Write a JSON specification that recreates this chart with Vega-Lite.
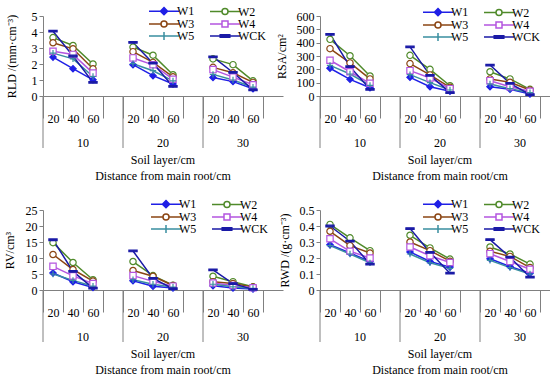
{
"$schema": "https://vega.github.io/schema/vega-lite/v6.json",
"background": "white",
"padding": {"left": 3, "top": 5, "right": 0, "bottom": 0},
"datasets": {
"rld": [
{"distance":10,"layer":20,"series":"W1","value":2.43},{"distance":10,"layer":40,"series":"W1","value":1.71},{"distance":10,"layer":60,"series":"W1","value":1.01},
{"distance":10,"layer":20,"series":"W2","value":3.65},{"distance":10,"layer":40,"series":"W2","value":3.16},{"distance":10,"layer":60,"series":"W2","value":2.0},
{"distance":10,"layer":20,"series":"W3","value":3.33},{"distance":10,"layer":40,"series":"W3","value":2.95},{"distance":10,"layer":60,"series":"W3","value":1.7},
{"distance":10,"layer":20,"series":"W4","value":2.8},{"distance":10,"layer":40,"series":"W4","value":2.6},{"distance":10,"layer":60,"series":"W4","value":1.43},
{"distance":10,"layer":20,"series":"W5","value":2.68},{"distance":10,"layer":40,"series":"W5","value":2.32},{"distance":10,"layer":60,"series":"W5","value":1.22},
{"distance":10,"layer":20,"series":"WCK","value":4.05},{"distance":10,"layer":40,"series":"WCK","value":2.5},{"distance":10,"layer":60,"series":"WCK","value":0.85},
{"distance":20,"layer":20,"series":"W1","value":1.96},{"distance":20,"layer":40,"series":"W1","value":1.27},{"distance":20,"layer":60,"series":"W1","value":0.75},
{"distance":20,"layer":20,"series":"W2","value":3.06},{"distance":20,"layer":40,"series":"W2","value":2.55},{"distance":20,"layer":60,"series":"W2","value":1.33},
{"distance":20,"layer":20,"series":"W3","value":2.77},{"distance":20,"layer":40,"series":"W3","value":2.1},{"distance":20,"layer":60,"series":"W3","value":1.2},
{"distance":20,"layer":20,"series":"W4","value":2.38},{"distance":20,"layer":40,"series":"W4","value":1.95},{"distance":20,"layer":60,"series":"W4","value":1.05},
{"distance":20,"layer":20,"series":"W5","value":2.02},{"distance":20,"layer":40,"series":"W5","value":1.58},{"distance":20,"layer":60,"series":"W5","value":0.95},
{"distance":20,"layer":20,"series":"WCK","value":3.35},{"distance":20,"layer":40,"series":"WCK","value":2.05},{"distance":20,"layer":60,"series":"WCK","value":0.6},
{"distance":30,"layer":20,"series":"W1","value":1.16},{"distance":30,"layer":40,"series":"W1","value":0.9},{"distance":30,"layer":60,"series":"W1","value":0.45},
{"distance":30,"layer":20,"series":"W2","value":2.32},{"distance":30,"layer":40,"series":"W2","value":1.96},{"distance":30,"layer":60,"series":"W2","value":0.95},
{"distance":30,"layer":20,"series":"W3","value":1.79},{"distance":30,"layer":40,"series":"W3","value":1.45},{"distance":30,"layer":60,"series":"W3","value":0.85},
{"distance":30,"layer":20,"series":"W4","value":1.65},{"distance":30,"layer":40,"series":"W4","value":1.18},{"distance":30,"layer":60,"series":"W4","value":0.7},
{"distance":30,"layer":20,"series":"W5","value":1.35},{"distance":30,"layer":40,"series":"W5","value":1.0},{"distance":30,"layer":60,"series":"W5","value":0.55},
{"distance":30,"layer":20,"series":"WCK","value":2.45},{"distance":30,"layer":40,"series":"WCK","value":1.47},{"distance":30,"layer":60,"series":"WCK","value":0.38}
],
"rsa": [
{"distance":10,"layer":20,"series":"W1","value":208},{"distance":10,"layer":40,"series":"W1","value":125},{"distance":10,"layer":60,"series":"W1","value":62},
{"distance":10,"layer":20,"series":"W2","value":425},{"distance":10,"layer":40,"series":"W2","value":302},{"distance":10,"layer":60,"series":"W2","value":150},
{"distance":10,"layer":20,"series":"W3","value":355},{"distance":10,"layer":40,"series":"W3","value":248},{"distance":10,"layer":60,"series":"W3","value":128},
{"distance":10,"layer":20,"series":"W4","value":268},{"distance":10,"layer":40,"series":"W4","value":182},{"distance":10,"layer":60,"series":"W4","value":95},
{"distance":10,"layer":20,"series":"W5","value":230},{"distance":10,"layer":40,"series":"W5","value":165},{"distance":10,"layer":60,"series":"W5","value":80},
{"distance":10,"layer":20,"series":"WCK","value":463},{"distance":10,"layer":40,"series":"WCK","value":220},{"distance":10,"layer":60,"series":"WCK","value":50},
{"distance":20,"layer":20,"series":"W1","value":140},{"distance":20,"layer":40,"series":"W1","value":70},{"distance":20,"layer":60,"series":"W1","value":35},
{"distance":20,"layer":20,"series":"W2","value":305},{"distance":20,"layer":40,"series":"W2","value":200},{"distance":20,"layer":60,"series":"W2","value":77},
{"distance":20,"layer":20,"series":"W3","value":243},{"distance":20,"layer":40,"series":"W3","value":158},{"distance":20,"layer":60,"series":"W3","value":65},
{"distance":20,"layer":20,"series":"W4","value":190},{"distance":20,"layer":40,"series":"W4","value":135},{"distance":20,"layer":60,"series":"W4","value":55},
{"distance":20,"layer":20,"series":"W5","value":160},{"distance":20,"layer":40,"series":"W5","value":100},{"distance":20,"layer":60,"series":"W5","value":45},
{"distance":20,"layer":20,"series":"WCK","value":368},{"distance":20,"layer":40,"series":"WCK","value":155},{"distance":20,"layer":60,"series":"WCK","value":25},
{"distance":30,"layer":20,"series":"W1","value":70},{"distance":30,"layer":40,"series":"W1","value":50},{"distance":30,"layer":60,"series":"W1","value":15},
{"distance":30,"layer":20,"series":"W2","value":182},{"distance":30,"layer":40,"series":"W2","value":128},{"distance":30,"layer":60,"series":"W2","value":50},
{"distance":30,"layer":20,"series":"W3","value":128},{"distance":30,"layer":40,"series":"W3","value":103},{"distance":30,"layer":60,"series":"W3","value":45},
{"distance":30,"layer":20,"series":"W4","value":115},{"distance":30,"layer":40,"series":"W4","value":70},{"distance":30,"layer":60,"series":"W4","value":35},
{"distance":30,"layer":20,"series":"W5","value":90},{"distance":30,"layer":40,"series":"W5","value":55},{"distance":30,"layer":60,"series":"W5","value":25},
{"distance":30,"layer":20,"series":"WCK","value":232},{"distance":30,"layer":40,"series":"WCK","value":95},{"distance":30,"layer":60,"series":"WCK","value":10}
],
"rv": [
{"distance":10,"layer":20,"series":"W1","value":5.3},{"distance":10,"layer":40,"series":"W1","value":2.6},{"distance":10,"layer":60,"series":"W1","value":0.8},
{"distance":10,"layer":20,"series":"W2","value":14.8},{"distance":10,"layer":40,"series":"W2","value":8.6},{"distance":10,"layer":60,"series":"W2","value":3.2},
{"distance":10,"layer":20,"series":"W3","value":11.1},{"distance":10,"layer":40,"series":"W3","value":6.4},{"distance":10,"layer":60,"series":"W3","value":2.8},
{"distance":10,"layer":20,"series":"W4","value":7.4},{"distance":10,"layer":40,"series":"W4","value":4.4},{"distance":10,"layer":60,"series":"W4","value":2.0},
{"distance":10,"layer":20,"series":"W5","value":5.0},{"distance":10,"layer":40,"series":"W5","value":3.0},{"distance":10,"layer":60,"series":"W5","value":1.2},
{"distance":10,"layer":20,"series":"WCK","value":15.7},{"distance":10,"layer":40,"series":"WCK","value":5.8},{"distance":10,"layer":60,"series":"WCK","value":0.6},
{"distance":20,"layer":20,"series":"W1","value":2.9},{"distance":20,"layer":40,"series":"W1","value":1.2},{"distance":20,"layer":60,"series":"W1","value":0.6},
{"distance":20,"layer":20,"series":"W2","value":8.9},{"distance":20,"layer":40,"series":"W2","value":4.5},{"distance":20,"layer":60,"series":"W2","value":1.5},
{"distance":20,"layer":20,"series":"W3","value":6.1},{"distance":20,"layer":40,"series":"W3","value":4.3},{"distance":20,"layer":60,"series":"W3","value":1.4},
{"distance":20,"layer":20,"series":"W4","value":4.5},{"distance":20,"layer":40,"series":"W4","value":2.7},{"distance":20,"layer":60,"series":"W4","value":1.2},
{"distance":20,"layer":20,"series":"W5","value":3.2},{"distance":20,"layer":40,"series":"W5","value":1.8},{"distance":20,"layer":60,"series":"W5","value":0.9},
{"distance":20,"layer":20,"series":"WCK","value":12.2},{"distance":20,"layer":40,"series":"WCK","value":3.6},{"distance":20,"layer":60,"series":"WCK","value":0.4},
{"distance":30,"layer":20,"series":"W1","value":1.3},{"distance":30,"layer":40,"series":"W1","value":0.6},{"distance":30,"layer":60,"series":"W1","value":0.3},
{"distance":30,"layer":20,"series":"W2","value":4.3},{"distance":30,"layer":40,"series":"W2","value":2.6},{"distance":30,"layer":60,"series":"W2","value":1.0},
{"distance":30,"layer":20,"series":"W3","value":2.6},{"distance":30,"layer":40,"series":"W3","value":2.0},{"distance":30,"layer":60,"series":"W3","value":0.9},
{"distance":30,"layer":20,"series":"W4","value":2.2},{"distance":30,"layer":40,"series":"W4","value":1.4},{"distance":30,"layer":60,"series":"W4","value":0.7},
{"distance":30,"layer":20,"series":"W5","value":1.8},{"distance":30,"layer":40,"series":"W5","value":1.0},{"distance":30,"layer":60,"series":"W5","value":0.5},
{"distance":30,"layer":20,"series":"WCK","value":6.3},{"distance":30,"layer":40,"series":"WCK","value":2.0},{"distance":30,"layer":60,"series":"WCK","value":0.2}
],
"rwd": [
{"distance":10,"layer":20,"series":"W1","value":0.283},{"distance":10,"layer":40,"series":"W1","value":0.231},{"distance":10,"layer":60,"series":"W1","value":0.178},
{"distance":10,"layer":20,"series":"W2","value":0.41},{"distance":10,"layer":40,"series":"W2","value":0.326},{"distance":10,"layer":60,"series":"W2","value":0.246},
{"distance":10,"layer":20,"series":"W3","value":0.367},{"distance":10,"layer":40,"series":"W3","value":0.277},{"distance":10,"layer":60,"series":"W3","value":0.231},
{"distance":10,"layer":20,"series":"W4","value":0.32},{"distance":10,"layer":40,"series":"W4","value":0.242},{"distance":10,"layer":60,"series":"W4","value":0.2},
{"distance":10,"layer":20,"series":"W5","value":0.277},{"distance":10,"layer":40,"series":"W5","value":0.225},{"distance":10,"layer":60,"series":"W5","value":0.17},
{"distance":10,"layer":20,"series":"WCK","value":0.4},{"distance":10,"layer":40,"series":"WCK","value":0.305},{"distance":10,"layer":60,"series":"WCK","value":0.162},
{"distance":20,"layer":20,"series":"W1","value":0.238},{"distance":20,"layer":40,"series":"W1","value":0.178},{"distance":20,"layer":60,"series":"W1","value":0.143},
{"distance":20,"layer":20,"series":"W2","value":0.342},{"distance":20,"layer":40,"series":"W2","value":0.263},{"distance":20,"layer":60,"series":"W2","value":0.193},
{"distance":20,"layer":20,"series":"W3","value":0.3},{"distance":20,"layer":40,"series":"W3","value":0.246},{"distance":20,"layer":60,"series":"W3","value":0.18},
{"distance":20,"layer":20,"series":"W4","value":0.269},{"distance":20,"layer":40,"series":"W4","value":0.214},{"distance":20,"layer":60,"series":"W4","value":0.172},
{"distance":20,"layer":20,"series":"W5","value":0.225},{"distance":20,"layer":40,"series":"W5","value":0.17},{"distance":20,"layer":60,"series":"W5","value":0.135},
{"distance":20,"layer":20,"series":"WCK","value":0.384},{"distance":20,"layer":40,"series":"WCK","value":0.235},{"distance":20,"layer":60,"series":"WCK","value":0.105},
{"distance":30,"layer":20,"series":"W1","value":0.195},{"distance":30,"layer":40,"series":"W1","value":0.147},{"distance":30,"layer":60,"series":"W1","value":0.105},
{"distance":30,"layer":20,"series":"W2","value":0.269},{"distance":30,"layer":40,"series":"W2","value":0.225},{"distance":30,"layer":60,"series":"W2","value":0.162},
{"distance":30,"layer":20,"series":"W3","value":0.242},{"distance":30,"layer":40,"series":"W3","value":0.21},{"distance":30,"layer":60,"series":"W3","value":0.14},
{"distance":30,"layer":20,"series":"W4","value":0.227},{"distance":30,"layer":40,"series":"W4","value":0.178},{"distance":30,"layer":60,"series":"W4","value":0.13},
{"distance":30,"layer":20,"series":"W5","value":0.185},{"distance":30,"layer":40,"series":"W5","value":0.14},{"distance":30,"layer":60,"series":"W5","value":0.1},
{"distance":30,"layer":20,"series":"WCK","value":0.315},{"distance":30,"layer":40,"series":"WCK","value":0.205},{"distance":30,"layer":60,"series":"WCK","value":0.08}
]
},
"columns": 2,
"spacing": {"row": 16, "column": -8},
"resolve": {"scale": {"y": "independent"}, "legend": {"color": "independent"}},
"concat": [
{
 "data": {"name": "rld"},
 "facet": {"column": {"field": "distance", "type": "ordinal", "title": ["Soil layer/cm", "Distance from main root/cm"]}},
 "spacing": {"column": 0},
 "bounds": "flush",
 "spec": {
  "width": 80, "height": 80,
  "encoding": {
   "x": {"field": "layer", "type": "ordinal", "scale": {"type": "band", "paddingInner": 0, "paddingOuter": 0.5, "align": 0}, "axis": {"title": null}},
   "y": {"field": "value", "type": "quantitative", "scale": {"domain": [0, 5], "nice": false}, "axis": {"title": "RLD /(mm·cm⁻³)", "values": [0, 1, 2, 3, 4, 5], "titlePadding": 13}}
  },
  "layer": [
   {"transform": [{"filter": "datum.layer == 20 && datum.series == 'W1'"}], "mark": {"type": "rule", "color": "#808080", "strokeWidth": 1, "clip": false}, "encoding": {"x": {"field": "layer", "type": "ordinal", "bandPosition": 0}, "y": {"datum": 0, "type": "quantitative"}, "y2": {"datum": -3.25}}},
   {"mark": {"type": "line", "strokeWidth": 1.5}, "encoding": {"color": {"field": "series", "type": "nominal", "scale": {"domain": ["W1","W2","W3","W4","W5","WCK"], "range": ["#1f1fe6","#4f8a2a","#8b4513","#b455e0","#3a8fa0","#1a1aa6"]},
     "legend": {"orient": "none", "legendX": 110, "legendY": -11, "columns": 2, "direction": "horizontal", "title": null, "symbolSize": 64, "symbolOffset": 5, "labelOffset": 7, "columnPadding": 12, "rowPadding": -1, "symbolStrokeWidth": 1.5,
      "encode": {"symbols": {"update": {"shape": {"signal": "datum.value==='W1'?'M-3.75,0H3.75M0,-0.9L0.9,0L0,0.9L-0.9,0Z':datum.value==='W4'?'M-3.75,0H-0.75M0.75,0H3.75M-0.75,-0.75H0.75V0.75H-0.75Z':datum.value==='W5'?'M-3.75,0H3.75M0,-1V1':datum.value==='WCK'?'M-3.75,0H3.75M-1.2,-0.3H1.2V0.3H-1.2Z':'M-3.75,0H-0.75M0.75,0H3.75M0.75,0A0.75,0.75,0,1,1,-0.75,0A0.75,0.75,0,1,1,0.75,0Z'"}, "fill": {"signal": "datum.value==='W1'?'#1f1fe6':datum.value==='WCK'?'#1a1aa6':'#ffffff'"}}}}}}}},
   {"mark": {"type": "point", "filled": true, "size": 40, "strokeWidth": 1.2, "opacity": 1}, "encoding": {
     "shape": {"field": "series", "type": "nominal", "scale": {"domain": ["W1","W2","W3","W4","W5","WCK"], "range": ["diamond","circle","circle","square","M-1,0H1M0,-1V1","M-1.3,-0.25H1.3V0.25H-1.3Z"]}, "legend": null},
     "stroke": {"field": "series", "type": "nominal", "scale": {"domain": ["W1","W2","W3","W4","W5","WCK"], "range": ["#1f1fe6","#4f8a2a","#8b4513","#b455e0","#3a8fa0","#1a1aa6"]}, "legend": null},
     "fill": {"field": "series", "type": "nominal", "scale": {"domain": ["W1","W2","W3","W4","W5","WCK"], "range": ["#1f1fe6","#ffffff","#ffffff","#ffffff","#ffffff","#1a1aa6"]}, "legend": null}}}
  ]
 }
},
{
 "data": {"name": "rsa"},
 "facet": {"column": {"field": "distance", "type": "ordinal", "title": ["Soil layer/cm", "Distance from main root/cm"]}},
 "spacing": {"column": 0},
 "bounds": "flush",
 "spec": {
  "width": 80, "height": 80,
  "encoding": {
   "x": {"field": "layer", "type": "ordinal", "scale": {"type": "band", "paddingInner": 0, "paddingOuter": 0.5, "align": 0}, "axis": {"title": null}},
   "y": {"field": "value", "type": "quantitative", "scale": {"domain": [0, 600], "nice": false}, "axis": {"title": "RSA/cm²", "values": [0, 100, 200, 300, 400, 500, 600], "titlePadding": 8}}
  },
  "layer": [
   {"transform": [{"filter": "datum.layer == 20 && datum.series == 'W1'"}], "mark": {"type": "rule", "color": "#808080", "strokeWidth": 1, "clip": false}, "encoding": {"x": {"field": "layer", "type": "ordinal", "bandPosition": 0}, "y": {"datum": 0, "type": "quantitative"}, "y2": {"datum": -390}}},
   {"mark": {"type": "line", "strokeWidth": 1.5}, "encoding": {"color": {"field": "series", "type": "nominal", "scale": {"domain": ["W1","W2","W3","W4","W5","WCK"], "range": ["#1f1fe6","#4f8a2a","#8b4513","#b455e0","#3a8fa0","#1a1aa6"]},
     "legend": {"orient": "none", "legendX": 107, "legendY": -10, "columns": 2, "direction": "horizontal", "title": null, "symbolSize": 64, "symbolOffset": 5, "labelOffset": 7, "columnPadding": 12, "rowPadding": -1, "symbolStrokeWidth": 1.5,
      "encode": {"symbols": {"update": {"shape": {"signal": "datum.value==='W1'?'M-3.75,0H3.75M0,-0.9L0.9,0L0,0.9L-0.9,0Z':datum.value==='W4'?'M-3.75,0H-0.75M0.75,0H3.75M-0.75,-0.75H0.75V0.75H-0.75Z':datum.value==='W5'?'M-3.75,0H3.75M0,-1V1':datum.value==='WCK'?'M-3.75,0H3.75M-1.2,-0.3H1.2V0.3H-1.2Z':'M-3.75,0H-0.75M0.75,0H3.75M0.75,0A0.75,0.75,0,1,1,-0.75,0A0.75,0.75,0,1,1,0.75,0Z'"}, "fill": {"signal": "datum.value==='W1'?'#1f1fe6':datum.value==='WCK'?'#1a1aa6':'#ffffff'"}}}}}}}},
   {"mark": {"type": "point", "filled": true, "size": 40, "strokeWidth": 1.2, "opacity": 1}, "encoding": {
     "shape": {"field": "series", "type": "nominal", "scale": {"domain": ["W1","W2","W3","W4","W5","WCK"], "range": ["diamond","circle","circle","square","M-1,0H1M0,-1V1","M-1.3,-0.25H1.3V0.25H-1.3Z"]}, "legend": null},
     "stroke": {"field": "series", "type": "nominal", "scale": {"domain": ["W1","W2","W3","W4","W5","WCK"], "range": ["#1f1fe6","#4f8a2a","#8b4513","#b455e0","#3a8fa0","#1a1aa6"]}, "legend": null},
     "fill": {"field": "series", "type": "nominal", "scale": {"domain": ["W1","W2","W3","W4","W5","WCK"], "range": ["#1f1fe6","#ffffff","#ffffff","#ffffff","#ffffff","#1a1aa6"]}, "legend": null}}}
  ]
 }
},
{
 "data": {"name": "rv"},
 "facet": {"column": {"field": "distance", "type": "ordinal", "title": ["Soil layer/cm", "Distance from main root/cm"]}},
 "spacing": {"column": 0},
 "bounds": "flush",
 "spec": {
  "width": 80, "height": 80,
  "encoding": {
   "x": {"field": "layer", "type": "ordinal", "scale": {"type": "band", "paddingInner": 0, "paddingOuter": 0.5, "align": 0}, "axis": {"title": null}},
   "y": {"field": "value", "type": "quantitative", "scale": {"domain": [0, 25], "nice": false}, "axis": {"title": "RV/cm³", "values": [0, 5, 10, 15, 20, 25], "titlePadding": 9}}
  },
  "layer": [
   {"transform": [{"filter": "datum.layer == 20 && datum.series == 'W1'"}], "mark": {"type": "rule", "color": "#808080", "strokeWidth": 1, "clip": false}, "encoding": {"x": {"field": "layer", "type": "ordinal", "bandPosition": 0}, "y": {"datum": 0, "type": "quantitative"}, "y2": {"datum": -16.25}}},
   {"mark": {"type": "line", "strokeWidth": 1.5}, "encoding": {"color": {"field": "series", "type": "nominal", "scale": {"domain": ["W1","W2","W3","W4","W5","WCK"], "range": ["#1f1fe6","#4f8a2a","#8b4513","#b455e0","#3a8fa0","#1a1aa6"]},
     "legend": {"orient": "none", "legendX": 112, "legendY": -12, "columns": 2, "direction": "horizontal", "title": null, "symbolSize": 64, "symbolOffset": 5, "labelOffset": 7, "columnPadding": 12, "rowPadding": -1, "symbolStrokeWidth": 1.5,
      "encode": {"symbols": {"update": {"shape": {"signal": "datum.value==='W1'?'M-3.75,0H3.75M0,-0.9L0.9,0L0,0.9L-0.9,0Z':datum.value==='W4'?'M-3.75,0H-0.75M0.75,0H3.75M-0.75,-0.75H0.75V0.75H-0.75Z':datum.value==='W5'?'M-3.75,0H3.75M0,-1V1':datum.value==='WCK'?'M-3.75,0H3.75M-1.2,-0.3H1.2V0.3H-1.2Z':'M-3.75,0H-0.75M0.75,0H3.75M0.75,0A0.75,0.75,0,1,1,-0.75,0A0.75,0.75,0,1,1,0.75,0Z'"}, "fill": {"signal": "datum.value==='W1'?'#1f1fe6':datum.value==='WCK'?'#1a1aa6':'#ffffff'"}}}}}}}},
   {"mark": {"type": "point", "filled": true, "size": 40, "strokeWidth": 1.2, "opacity": 1}, "encoding": {
     "shape": {"field": "series", "type": "nominal", "scale": {"domain": ["W1","W2","W3","W4","W5","WCK"], "range": ["diamond","circle","circle","square","M-1,0H1M0,-1V1","M-1.3,-0.25H1.3V0.25H-1.3Z"]}, "legend": null},
     "stroke": {"field": "series", "type": "nominal", "scale": {"domain": ["W1","W2","W3","W4","W5","WCK"], "range": ["#1f1fe6","#4f8a2a","#8b4513","#b455e0","#3a8fa0","#1a1aa6"]}, "legend": null},
     "fill": {"field": "series", "type": "nominal", "scale": {"domain": ["W1","W2","W3","W4","W5","WCK"], "range": ["#1f1fe6","#ffffff","#ffffff","#ffffff","#ffffff","#1a1aa6"]}, "legend": null}}}
  ]
 }
},
{
 "data": {"name": "rwd"},
 "facet": {"column": {"field": "distance", "type": "ordinal", "title": ["Soil layer/cm", "Distance from main root/cm"]}},
 "spacing": {"column": 0},
 "bounds": "flush",
 "spec": {
  "width": 80, "height": 80,
  "encoding": {
   "x": {"field": "layer", "type": "ordinal", "scale": {"type": "band", "paddingInner": 0, "paddingOuter": 0.5, "align": 0}, "axis": {"title": null}},
   "y": {"field": "value", "type": "quantitative", "scale": {"domain": [0, 0.5], "nice": false}, "axis": {"title": "RWD /(g·cm⁻³)", "values": [0, 0.1, 0.2, 0.3, 0.4, 0.5], "titlePadding": 8, "labelExpr": "datum.value == 0 ? '0' : format(datum.value, '.1f')"}}
  },
  "layer": [
   {"transform": [{"filter": "datum.layer == 20 && datum.series == 'W1'"}], "mark": {"type": "rule", "color": "#808080", "strokeWidth": 1, "clip": false}, "encoding": {"x": {"field": "layer", "type": "ordinal", "bandPosition": 0}, "y": {"datum": 0, "type": "quantitative"}, "y2": {"datum": -0.325}}},
   {"mark": {"type": "line", "strokeWidth": 1.5}, "encoding": {"color": {"field": "series", "type": "nominal", "scale": {"domain": ["W1","W2","W3","W4","W5","WCK"], "range": ["#1f1fe6","#4f8a2a","#8b4513","#b455e0","#3a8fa0","#1a1aa6"]},
     "legend": {"orient": "none", "legendX": 107, "legendY": -12, "columns": 2, "direction": "horizontal", "title": null, "symbolSize": 64, "symbolOffset": 5, "labelOffset": 7, "columnPadding": 12, "rowPadding": -1, "symbolStrokeWidth": 1.5,
      "encode": {"symbols": {"update": {"shape": {"signal": "datum.value==='W1'?'M-3.75,0H3.75M0,-0.9L0.9,0L0,0.9L-0.9,0Z':datum.value==='W4'?'M-3.75,0H-0.75M0.75,0H3.75M-0.75,-0.75H0.75V0.75H-0.75Z':datum.value==='W5'?'M-3.75,0H3.75M0,-1V1':datum.value==='WCK'?'M-3.75,0H3.75M-1.2,-0.3H1.2V0.3H-1.2Z':'M-3.75,0H-0.75M0.75,0H3.75M0.75,0A0.75,0.75,0,1,1,-0.75,0A0.75,0.75,0,1,1,0.75,0Z'"}, "fill": {"signal": "datum.value==='W1'?'#1f1fe6':datum.value==='WCK'?'#1a1aa6':'#ffffff'"}}}}}}}},
   {"mark": {"type": "point", "filled": true, "size": 40, "strokeWidth": 1.2, "opacity": 1}, "encoding": {
     "shape": {"field": "series", "type": "nominal", "scale": {"domain": ["W1","W2","W3","W4","W5","WCK"], "range": ["diamond","circle","circle","square","M-1,0H1M0,-1V1","M-1.3,-0.25H1.3V0.25H-1.3Z"]}, "legend": null},
     "stroke": {"field": "series", "type": "nominal", "scale": {"domain": ["W1","W2","W3","W4","W5","WCK"], "range": ["#1f1fe6","#4f8a2a","#8b4513","#b455e0","#3a8fa0","#1a1aa6"]}, "legend": null},
     "fill": {"field": "series", "type": "nominal", "scale": {"domain": ["W1","W2","W3","W4","W5","WCK"], "range": ["#1f1fe6","#ffffff","#ffffff","#ffffff","#ffffff","#1a1aa6"]}, "legend": null}}}
  ]
 }
}
],
"config": {
 "font": "Liberation Serif",
 "view": {"stroke": null},
 "axis": {"labelFont": "Liberation Serif", "labelFontSize": 12, "labelColor": "#000000", "titleFont": "Liberation Serif", "titleFontSize": 12, "titleFontWeight": "normal", "titleColor": "#000000", "domainColor": "#808080", "tickColor": "#808080", "grid": false},
 "axisX": {"labelAngle": 0, "tickBand": "extent", "tickSize": 22, "labelBaseline": "middle", "labelPadding": 0},
 "axisY": {"tickSize": 4, "labelPadding": 2},
 "header": {"labelFont": "Liberation Serif", "labelFontSize": 12, "labelColor": "#000000", "titleFont": "Liberation Serif", "titleFontSize": 12, "titleFontWeight": "normal", "titleColor": "#000000", "labelOrient": "bottom", "titleOrient": "bottom", "labelBaseline": "bottom", "labelPadding": 26, "titlePadding": -4, "titleLineHeight": 16},
 "legend": {"labelFont": "Liberation Serif", "labelFontSize": 12, "labelColor": "#000000", "padding": 0}
}
}
